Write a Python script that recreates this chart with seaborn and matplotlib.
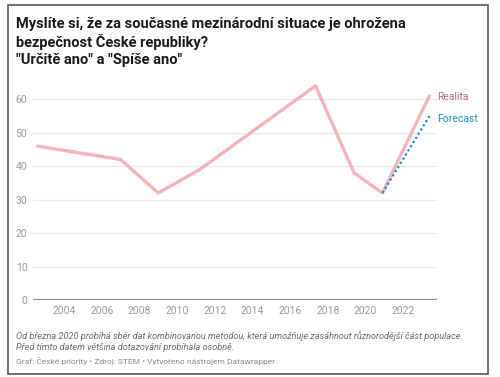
import matplotlib.pyplot as plt
import matplotlib.patches as mpatches
import pandas as pd
import seaborn as sns

# Survey values (share of "Určitě ano" + "Spíše ano")
years_real = [2002.6, 2007.0, 2009.0, 2011.2, 2017.35, 2019.4, 2020.9, 2023.4]
values_real = [46, 42, 32, 39, 64, 38, 32, 61]
years_fc = [2020.9, 2023.4]
values_fc = [32, 55]
x_ticks = [2004, 2006, 2008, 2010, 2012, 2014, 2016, 2018, 2020, 2022]
y_ticks = [0, 10, 20, 30, 40, 50, 60]

df_real = pd.DataFrame({'year': years_real, 'value': values_real})
df_fc = pd.DataFrame({'year': years_fc, 'value': values_fc})

sns.set_style('white')
plt.rcParams['font.family'] = ['Roboto', 'DejaVu Sans']

fig = plt.figure(figsize=(5, 3.77), dpi=100)
ax = fig.add_axes([0.066, 0.204, 0.808, 0.586])

# Light grid
for y in y_ticks[1:]:
    ax.axhline(y, color='#ebebeb', lw=0.8, zorder=0)
ax.axhline(0, color='#8a8a8a', lw=1.6, zorder=1)

sns.lineplot(data=df_real, x='year', y='value', ax=ax, color='#f2b3bb',
             lw=2.4, zorder=3)
sns.lineplot(data=df_fc, x='year', y='value', ax=ax, color='#1a93b8',
             lw=1.6, ls=(0, (1, 1.2)), zorder=4)

ax.set_xlim(2002.35, 2023.8)
ax.set_ylim(0, 66)
ax.set_xticks(x_ticks)
ax.set_yticks(y_ticks)
ax.set_xticklabels([str(t) for t in x_ticks])
ax.tick_params(axis='both', length=0, colors='#9a9a9a', labelsize=7.5)
ax.tick_params(axis='y', pad=4)
ax.tick_params(axis='x', pad=4)
ax.set_xlabel('')
ax.set_ylabel('')
for s in ax.spines.values():
    s.set_visible(False)

# Line labels
ax.text(years_real[-1] + 0.4, values_real[-1] - 0.3, 'Realita', color='#b86a7e',
        fontsize=7.5, va='center', clip_on=False)
ax.text(years_fc[-1] + 0.4, values_fc[-1] - 0.8, 'Forecast', color='#1a93b8',
        fontsize=7.5, va='center', clip_on=False)

# Title
fig.text(0.032, 0.955, 'Myslíte si, že za současné mezinárodní situace je ohrožena\n'
         'bezpečnost České republiky?\n"Určitě ano" a "Spíše ano"',
         fontsize=10.5, fontweight='bold', color='#1a1a1a', va='top',
         linespacing=1.25)

# Notes
fig.text(0.032, 0.094, 'Od března 2020 probíhá sběr dat kombinovanou metodou, která '
         'umožňuje zasáhnout různorodější část populace.\n'
         'Před tímto datem většina dotazování probíhala osobně.',
         fontsize=6.6, style='italic', color='#6a6a6a', va='center',
         linespacing=1.3)
fig.text(0.032, 0.042, 'Graf: České priority • Zdroj: STEM • Vytvořeno nástrojem Datawrapper',
         fontsize=6.05, color='#8a8a8a', va='center')

# Outer frame
fig.patches.append(mpatches.Rectangle((0.016, 0.008), 0.96, 0.98,
                                      transform=fig.transFigure, fill=False,
                                      edgecolor='#555555', lw=1.2))

fig.savefig('out.png', dpi=100)
